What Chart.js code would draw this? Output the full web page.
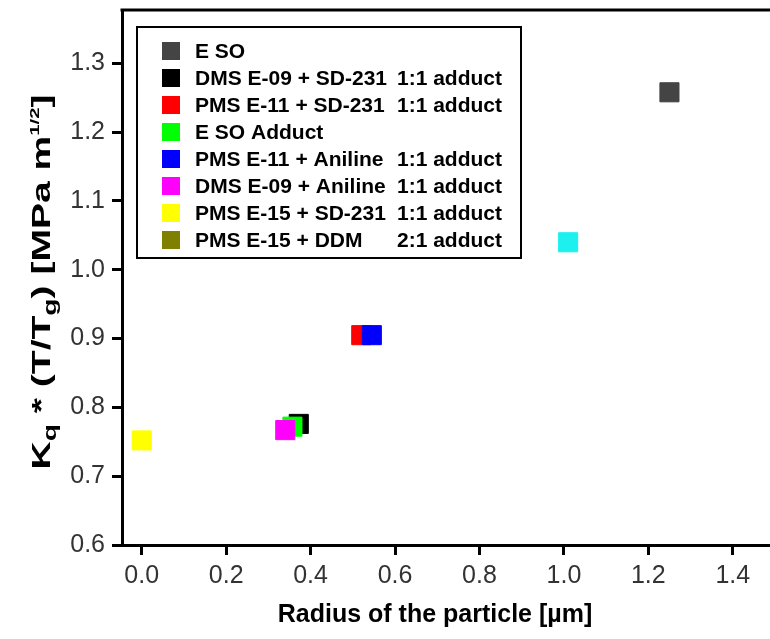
<!DOCTYPE html>
<html>
<head>
<meta charset="utf-8">
<script src="https://cdn.jsdelivr.net/npm/chart.js@4.4.0/dist/chart.umd.min.js"></script>
<style>
  html, body { margin: 0; padding: 0; background: #fff; overflow: hidden; width: 770px; height: 639px; }
  #wrap { width: 778px; height: 639px; }
</style>
</head>
<body>
<div id="wrap"><canvas id="chart" width="778" height="639"></canvas></div>
<script>
// legend order of the series
const seriesLabels = [
  'E SO',
  'DMS E-09 + SD-231  1:1 adduct',
  'PMS E-11 + SD-231  1:1 adduct',
  'E SO Adduct',
  'PMS E-11 + Aniline  1:1 adduct',
  'DMS E-09 + Aniline  1:1 adduct',
  'PMS E-15 + SD-231  1:1 adduct',
  'PMS E-15 + DDM  2:1 adduct'
];
const seriesColors = ['#444444', '#000000', '#ff0000', '#00ff00', '#0000ff', '#ff00ff', '#ffff00', '#808000'];

// one point per series: radius [um] and Kq*(T/Tg)
const radiusValues = [1.25, 0.372, 0.52, 0.357, 0.545, 0.34, 0.0, null];
const kqValues     = [1.258, 0.776, 0.905, 0.772, 0.905, 0.767, 0.752, null];

// point shown in the plot without legend entry
const extraRadius = [1.01];
const extraKq     = [1.04];

const xTickValues = [0.0, 0.2, 0.4, 0.6, 0.8, 1.0, 1.2, 1.4];
const yTickValues = [0.6, 0.7, 0.8, 0.9, 1.0, 1.1, 1.2, 1.3];

// stacking of overlapping squares (lower = on top)
const drawOrder = [0, 2, 1, 1, 0, 0, 0, 0];

const datasets = seriesLabels.map((label, i) => ({
  label,
  data: radiusValues[i] === null ? [] : [{ x: radiusValues[i], y: kqValues[i] }],
  backgroundColor: seriesColors[i],
  borderColor: seriesColors[i],
  borderWidth: 1,
  pointStyle: 'rect',
  pointRadius: 13.5,
  order: drawOrder[i]
}));
datasets.push({
  label: '',
  data: extraRadius.map((x, i) => ({ x, y: extraKq[i] })),
  backgroundColor: '#1ef0f0',
  borderColor: '#1ef0f0',
  borderWidth: 1,
  pointStyle: 'rect',
  pointRadius: 13.5,
  order: 0
});

// frame on top of the plot area + legend box + axis titles
const decorPlugin = {
  id: 'decor',
  afterDraw(chart) {
    const ctx = chart.ctx;
    const a = chart.chartArea;
    ctx.save();
    ctx.strokeStyle = '#000';
    ctx.lineWidth = 3;
    ctx.beginPath();
    ctx.moveTo(a.left - 1.5, a.top);
    ctx.lineTo(a.right, a.top);
    ctx.lineTo(a.right, a.bottom);
    ctx.stroke();

    // legend
    ctx.lineWidth = 2;
    ctx.fillStyle = '#fff';
    ctx.fillRect(137, 27, 384, 231);
    ctx.strokeRect(137, 27, 384, 231);
    ctx.font = 'bold 21px "Liberation Sans", Arial, sans-serif';
    ctx.textBaseline = 'middle';
    seriesLabels.forEach((label, i) => {
      const cy = 51 + i * 27;
      ctx.fillStyle = seriesColors[i];
      ctx.fillRect(162, cy - 9, 18, 18);
      const parts = label.split('  ');
      ctx.fillStyle = '#000';
      ctx.textAlign = 'left';
      ctx.fillText(parts[0], 195, cy + 1);
      if (parts[1]) ctx.fillText(parts[1], 397, cy + 1);
    });

    // x title
    ctx.fillStyle = '#000';
    ctx.font = 'bold 25px "Liberation Sans", Arial, sans-serif';
    ctx.textAlign = 'center';
    ctx.textBaseline = 'alphabetic';
    ctx.fillText('Radius of the particle [\u00b5m]', 435, 622);

    // y title with sub/superscripts (stretched along its length like the original)
    const big = 'bold 25px "Liberation Sans", Arial, sans-serif';
    const small = 'bold 18px "Liberation Sans", Arial, sans-serif';
    const tiny = 'bold 13px "Liberation Sans", Arial, sans-serif';
    const runs = [
      { t: 'K', f: big, dy: 0 },
      { t: 'q', f: small, dy: 6 },
      { t: ' * (T/T', f: big, dy: 0 },
      { t: 'g', f: small, dy: 6 },
      { t: ') [MPa m', f: big, dy: 0 },
      { t: '1/2', f: tiny, dy: -11 },
      { t: ']', f: big, dy: 0 }
    ];
    let total = 0;
    runs.forEach(r => { ctx.font = r.f; r.w = ctx.measureText(r.t).width; total += r.w; });
    const stretch = 375 / total;
    ctx.translate(50, 282);
    ctx.rotate(-Math.PI / 2);
    ctx.scale(stretch, 1);
    ctx.textAlign = 'left';
    let x = -total / 2;
    runs.forEach(r => { ctx.font = r.f; ctx.fillText(r.t, x, r.dy); x += r.w; });
    ctx.restore();
  }
};

const tickFont = { family: '"Liberation Sans", Arial, sans-serif', size: 25 };
const noPad = s => { s.paddingTop = 0; s.paddingBottom = 0; s.paddingLeft = 0; s.paddingRight = 0; };

new Chart(document.getElementById('chart').getContext('2d'), {
  type: 'scatter',
  data: { datasets },
  options: {
    responsive: false,
    animation: false,
    devicePixelRatio: 1,
    layout: { autoPadding: false, padding: { top: 10, right: 3, left: 0, bottom: 0 } },
    plugins: { legend: { display: false }, tooltip: { enabled: false } },
    scales: {
      x: {
        type: 'linear',
        min: -0.0467,
        max: 1.5,
        afterFit: s => { s.height = 94; noPad(s); },
        afterBuildTicks: s => { s.ticks = xTickValues.map(v => ({ value: v })); },
        ticks: { font: tickFont, color: '#333', padding: 6, callback: v => v.toFixed(1) },
        grid: { drawOnChartArea: false, drawTicks: true, tickLength: 10, tickWidth: 3, tickColor: '#000' },
        border: { color: '#000', width: 3 }
      },
      y: {
        type: 'linear',
        min: 0.6,
        max: 1.3776,
        afterFit: s => { s.width = 122; noPad(s); },
        afterBuildTicks: s => { s.ticks = yTickValues.map(v => ({ value: v })); },
        ticks: { font: tickFont, color: '#333', padding: 7, callback: v => v.toFixed(1) },
        grid: { drawOnChartArea: false, drawTicks: true, tickLength: 10, tickWidth: 3, tickColor: '#000' },
        border: { color: '#000', width: 3 }
      }
    }
  },
  plugins: [decorPlugin]
});
</script>
</body>
</html>
